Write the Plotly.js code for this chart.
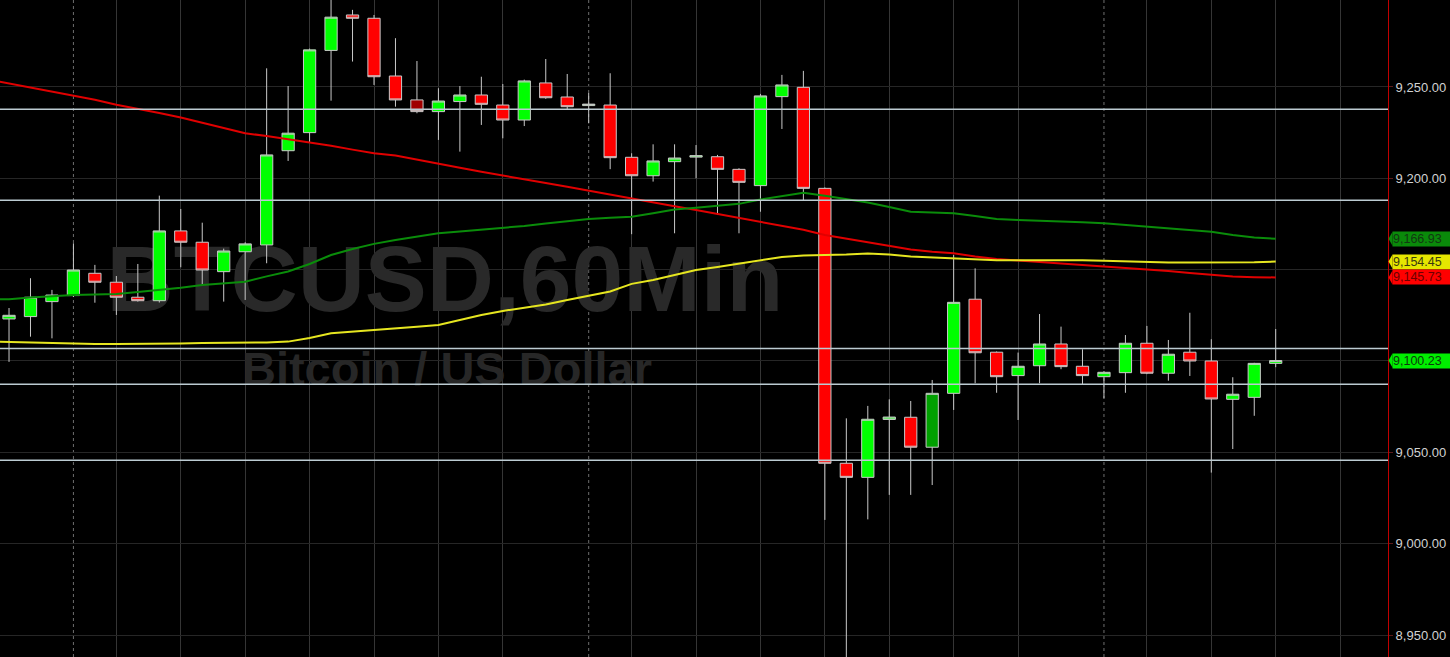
<!DOCTYPE html>
<html><head><meta charset="utf-8">
<script src="https://cdn.plot.ly/plotly-3.0.1.min.js"></script>
<style>html,body{margin:0;padding:0;background:#000;overflow:hidden}#chart{width:1450px;height:657px}</style>
</head><body><div id="chart"></div>
<script>
// ---- data ----
const hours = [0,1,2,3,4,5,6,7,8,9,10,11,12,13,14,15,16,17,18,19,20,21,22,23,24,25,26,27,28,29,30,31,32,33,34,35,36,37,38,39,40,41,42,43,44,45,46,47,48,49,50,51,52,53,54,55,56,57,58,59];
const open  = [9123.0,9124.3,9132.5,9135.8,9148.0,9143.1,9134.9,9133.0,9171.2,9165.0,9148.9,9159.8,9163.5,9215.1,9225.0,9270.0,9289.4,9287.6,9256.0,9242.9,9236.5,9242.0,9245.6,9240.1,9231.9,9252.2,9244.5,9239.8,9240.1,9211.5,9201.4,9209.1,9211.6,9211.8,9204.9,9196.0,9244.7,9249.8,9194.5,9044.0,9036.3,9068.0,9069.2,9052.8,9082.3,9133.8,9104.8,9092.0,9097.4,9109.3,9097.1,9091.4,9093.6,9109.7,9093.3,9104.8,9100.0,9079.0,9080.1,9098.7];
const high  = [9129.0,9145.3,9138.9,9164.4,9152.6,9146.5,9153.1,9190.5,9183.2,9175.7,9161.5,9165.0,9260.2,9250.5,9271.0,9300.0,9292.2,9289.4,9276.7,9264.2,9249.3,9250.5,9255.6,9251.6,9254.0,9265.3,9257.1,9246.7,9257.5,9213.7,9218.6,9218.6,9218.2,9212.8,9205.5,9246.2,9256.6,9258.8,9195.0,9068.6,9075.4,9079.0,9078.1,9089.6,9158.0,9150.7,9105.2,9104.6,9125.7,9118.8,9106.4,9094.5,9114.2,9119.2,9111.5,9126.4,9111.9,9091.1,9099.0,9117.5];
const low   = [9099.5,9113.3,9112.4,9135.0,9131.9,9125.2,9132.5,9132.0,9151.3,9141.1,9132.5,9133.4,9153.5,9209.5,9219.5,9242.5,9263.9,9251.1,9239.2,9235.6,9221.0,9214.6,9229.2,9221.9,9228.6,9243.5,9237.8,9230.1,9205.0,9169.4,9198.2,9169.9,9200.0,9179.9,9169.9,9181.7,9227.0,9188.1,9013.0,8936.0,9013.3,9026.7,9026.7,9032.1,9073.2,9087.8,9082.6,9067.7,9087.8,9095.5,9087.3,9079.6,9082.6,9092.8,9089.2,9091.8,9038.9,9051.8,9070.0,9096.6];
const close = [9125.0,9134.9,9136.1,9149.8,9143.1,9134.9,9133.0,9171.2,9165.0,9149.8,9160.2,9164.1,9212.8,9224.7,9270.3,9288.2,9287.6,9255.6,9242.9,9236.5,9242.3,9245.6,9240.5,9231.9,9253.3,9244.1,9239.2,9240.6,9211.3,9201.4,9209.5,9211.1,9212.4,9204.9,9197.8,9245.1,9251.1,9194.5,9044.0,9036.3,9068.1,9069.3,9052.8,9082.3,9132.1,9104.5,9091.4,9097.1,9109.3,9096.9,9092.0,9093.8,9109.7,9093.3,9103.7,9100.0,9079.2,9081.8,9098.7,9100.23];
const darkRedHours = [19];
const darkGreenHours = [43];

const maHours  = [-1,0,1,2,3,4,5,6,7,8,9,10,11,12,13,14,15,16,17,18,19,20,21,22,23,24,25,26,27,28,29,30,31,32,33,34,35,36,37,38,39,40,41,42,43,44,45,46,47,48,49,50,51,52,53,54,55,56,57,58,59];
const maRed    = [9254.2,9252.0,9249.7,9247.5,9245.3,9243.0,9240.3,9237.8,9235.7,9233.3,9230.5,9227.6,9224.7,9223.1,9221.4,9219.8,9217.8,9215.7,9213.7,9212.5,9210.4,9208.0,9205.8,9203.6,9201.4,9199.4,9197.4,9195.4,9193.2,9190.9,9188.7,9186.7,9184.7,9182.6,9180.4,9178.2,9176.4,9174.1,9171.8,9169.0,9167.0,9165.3,9163.0,9161.0,9159.8,9159.0,9157.2,9155.8,9155.0,9154.2,9153.4,9152.6,9152.0,9151.1,9150.3,9149.2,9148.1,9147.1,9146.2,9145.9,9145.73];
const maGreen  = [9133.7,9133.8,9134.8,9135.5,9136.1,9136.4,9136.7,9137.8,9138.9,9140.1,9141.6,9142.7,9143.4,9146.3,9149.0,9153.1,9158.0,9161.3,9164.1,9166.2,9168.0,9169.9,9170.9,9171.8,9172.6,9173.9,9175.2,9176.4,9177.7,9178.4,9179.0,9180.9,9182.9,9183.9,9185.0,9186.0,9188.4,9190.3,9192.1,9190.4,9188.7,9186.8,9184.3,9181.7,9181.3,9180.9,9179.3,9177.7,9177.2,9176.9,9176.5,9175.9,9175.4,9174.5,9173.5,9172.5,9171.6,9170.8,9169.0,9167.6,9166.93];
const maYellow = [9110.7,9110.4,9110.0,9109.6,9109.3,9109.3,9109.3,9109.3,9109.3,9109.6,9109.9,9110.0,9109.7,9110.1,9110.6,9112.6,9115.2,9116.2,9117.2,9117.9,9118.8,9119.7,9122.5,9125.2,9127.4,9129.0,9130.9,9133.4,9135.6,9138.0,9142.2,9144.3,9147.1,9149.8,9151.5,9153.4,9155.3,9156.9,9157.8,9158.0,9158.3,9158.9,9158.3,9157.2,9156.7,9156.2,9155.7,9155.1,9155.1,9155.2,9155.2,9155.1,9154.9,9154.5,9154.0,9153.9,9153.9,9153.8,9153.8,9154.0,9154.45];

const levels = [9237.8, 9188.0, 9106.8, 9087.2, 9045.6];
const priceTicks = [8950, 9000, 9050, 9100, 9150, 9200, 9250];
const coveredTicks = [9100, 9150];   // labels hidden behind the price boxes
const gridHours = [5,8,11,14,17,20,23,29,32,35,38,41,44,47,53,56,59,62];
const daySeparators = [3,27,51];
const watermarkTitle = 'BTCUSD,60Min';
const watermarkSubtitle = 'Bitcoin / US Dollar';

// ---- layout helpers ----
const xr = [-0.42, 64.23];
const yr = [8937.96, 9297.6];
const plotW = 1388, plotH = 657;
const pxY = (yr[1] - yr[0]) / plotH;
const pxP = 1 / plotW;
const FONT = 'Liberation Sans, Arial, sans-serif';
const fmt = v => v.toLocaleString('en-US', {minimumFractionDigits: 2, maximumFractionDigits: 2});

function pick(arr, idx) { return idx.map(i => arr[hours.indexOf(i)]); }
const special = new Set([...darkRedHours, ...darkGreenHours]);
const normHours = hours.filter(h => !special.has(h));

function candle(xs, incFill, decFill) {
  return {
    type: 'candlestick', xaxis: 'x2', yaxis: 'y2',
    x: xs, open: pick(open, xs), high: pick(high, xs), low: pick(low, xs), close: pick(close, xs),
    increasing: {fillcolor: incFill, line: {color: '#c9c9c9', width: 1}},
    decreasing: {fillcolor: decFill, line: {color: '#c9c9c9', width: 1}},
    whiskerwidth: 0, hoverinfo: 'skip', showlegend: false
  };
}

const traces = [
  {type: 'scatter', mode: 'text', xaxis: 'x', yaxis: 'y',
   x: [xr[0] + 0.3206 * (xr[1] - xr[0])], y: [yr[0] + 0.562 * (yr[1] - yr[0])],
   text: [watermarkTitle], textposition: 'middle center',
   textfont: {family: FONT, size: 93, color: '#292929', weight: 'bold'}, hoverinfo: 'skip', showlegend: false},
  {type: 'scatter', mode: 'text', xaxis: 'x', yaxis: 'y',
   x: [xr[0] + 0.322 * (xr[1] - xr[0])], y: [yr[0] + 0.432 * (yr[1] - yr[0])],
   text: [watermarkSubtitle], textposition: 'middle center',
   textfont: {family: FONT, size: 47, color: '#272727', weight: 'bold'}, hoverinfo: 'skip', showlegend: false},
  candle(normHours, '#00ff00', '#ff0000'),
  candle(darkRedHours, '#a00000', '#a00000'),
  candle(darkGreenHours, '#00a000', '#00a000'),
  {type: 'scatter', mode: 'lines', xaxis: 'x2', yaxis: 'y2', x: maHours, y: maRed,
   line: {color: '#e00000', width: 2}, hoverinfo: 'skip', showlegend: false},
  {type: 'scatter', mode: 'lines', xaxis: 'x2', yaxis: 'y2', x: maHours, y: maGreen,
   line: {color: '#0a8c0a', width: 2}, hoverinfo: 'skip', showlegend: false},
  {type: 'scatter', mode: 'lines', xaxis: 'x2', yaxis: 'y2', x: maHours, y: maYellow,
   line: {color: '#e6e620', width: 2}, hoverinfo: 'skip', showlegend: false}
];

const shapes = [];
levels.forEach(v => shapes.push({type: 'line', xref: 'paper', yref: 'y', x0: 0, x1: 1, y0: v, y1: v,
  line: {color: '#bccbd2', width: 1.5}, layer: 'above'}));
daySeparators.forEach(h => shapes.push({type: 'line', xref: 'x', yref: 'paper', x0: h, x1: h, y0: 0, y1: 1,
  line: {color: '#6e6e6e', width: 1, dash: '3px,3px'}, layer: 'below'}));

const boxes = [
  {v: maGreen[maGreen.length - 1], bg: '#0a8a0a', fg: '#123812'},
  {v: maYellow[maYellow.length - 1], bg: '#e6e600', fg: '#3a3a10'},
  {v: maRed[maRed.length - 1], bg: '#ff0000', fg: '#6a0000'},
  {v: close[close.length - 1], bg: '#00ee00', fg: '#0d3a0d'}
];
const annotations = [];
boxes.forEach(b => {
  annotations.push({xref: 'paper', yref: 'y', x: 1, y: b.v, xanchor: 'left', yanchor: 'middle', xshift: 4,
    text: fmt(b.v), showarrow: false, bgcolor: b.bg, borderpad: 0, width: 60, height: 14, align: 'left',
    font: {family: FONT, size: 12.5, color: b.fg}});
  shapes.push({type: 'path', xref: 'paper', yref: 'y',
    path: `M ${1 + 0.5 * pxP} ${b.v} L ${1 + 4.5 * pxP} ${b.v + 7 * pxY} L ${1 + 4.5 * pxP} ${b.v - 7 * pxY} Z`,
    fillcolor: b.bg, line: {width: 0}, layer: 'above'});
});

const layout = {
  width: 1450, height: 657,
  margin: {l: 0, r: 62, t: 0, b: 0, pad: 0},
  paper_bgcolor: '#000000', plot_bgcolor: '#000000',
  showlegend: false, boxgap: 0.25, boxgroupgap: 0.24,
  xaxis: {range: xr, autorange: false, tickvals: gridHours, showticklabels: false, ticks: '', showgrid: true,
    gridcolor: '#353535', gridwidth: 1, zeroline: false, showline: false, anchor: 'y',
    rangeslider: {visible: false}},
  yaxis: {range: yr, autorange: false, side: 'right', tickvals: priceTicks,
    ticktext: priceTicks.map(t => coveredTicks.includes(t) ? '' : fmt(t)), showgrid: true,
    gridcolor: '#262626', gridwidth: 1, zeroline: false, showline: true, linecolor: '#c00000', linewidth: 1,
    ticks: 'outside', ticklen: 4, tickcolor: '#5a1a1a', automargin: false, anchor: 'x',
    tickfont: {family: FONT, size: 13, color: '#d2d2d2'}},
  xaxis2: {range: xr, autorange: false, overlaying: 'x', anchor: 'y2', showgrid: false, showticklabels: false,
    ticks: '', zeroline: false, showline: false, rangeslider: {visible: false}},
  yaxis2: {range: yr, autorange: false, overlaying: 'y', anchor: 'x2', side: 'right', showgrid: false,
    showticklabels: false, ticks: '', zeroline: false, showline: false},
  shapes: shapes, annotations: annotations
};

Plotly.newPlot('chart', traces, layout, {displayModeBar: false});
</script></body></html>
